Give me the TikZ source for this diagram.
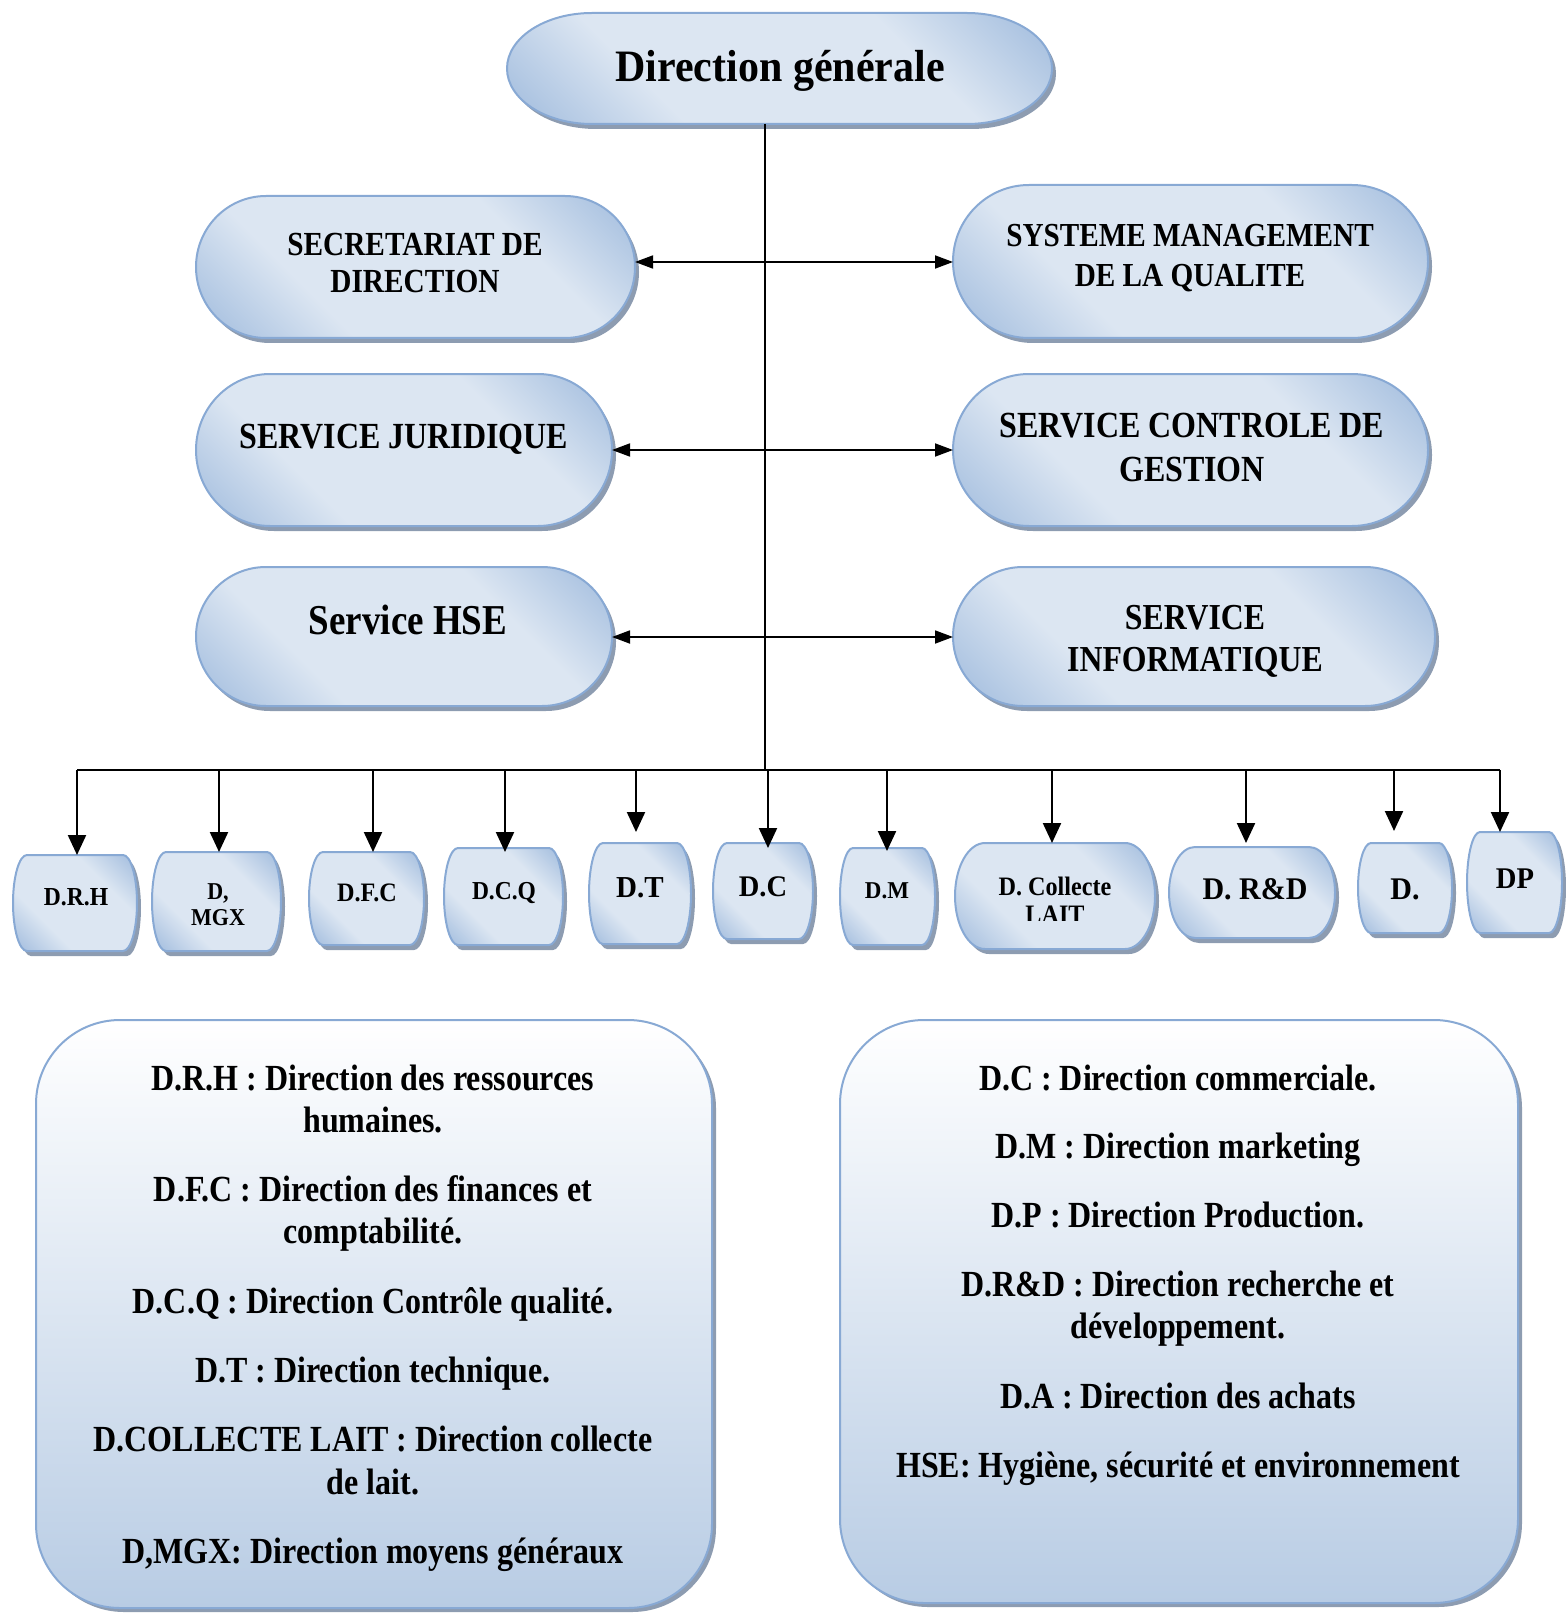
\documentclass[tikz,border=0pt]{standalone}
\usepackage{fontspec}
\setmainfont{Liberation Serif}
\usepackage{graphicx}
\usetikzlibrary{arrows.meta,shadows}

\definecolor{plight}{HTML}{DCE6F2}
\definecolor{pdark}{HTML}{9DB9DC}
\definecolor{pbord}{HTML}{88A9D4}
\definecolor{pshad}{HTML}{8D9CB1}
\definecolor{legbot}{HTML}{B8CCE4}

\pgfdeclarehorizontalshading{pillshade}{100bp}{color(0bp)=(pdark); color(14bp)=(pdark); color(34bp)=(plight); color(66bp)=(plight); color(86bp)=(pdark); color(100bp)=(pdark)}

\newcommand\fs[1]{\fontsize{#1}{#1}\selectfont\bfseries}
\newcommand\vst[2][1.15]{\scalebox{1}[#1]{#2}}

\tikzset{
  anchorbox/.style={rectangle, inner sep=0pt, outer sep=0pt},
  pillstyle/.style={shading=pillshade, shading angle=45, draw=pbord, line width=1pt},
  txt/.style={anchor=base, inner sep=0pt},
  harr/.style={-{Triangle[length=9pt,width=6.5pt]}, line width=0.9pt},
  varr/.style={-{Triangle[length=10pt,width=9pt]}, line width=1.1pt},
  legbox/.style={rectangle, rounded corners=42pt, draw=pbord, line width=1pt,
    top color=white, bottom color=legbot,
    drop shadow={shadow xshift=2pt, shadow yshift=-2pt, fill=pshad, opacity=1}},
}

% name, x1, y1, x2, y2, bulge (pixels, y downwards)
\newcommand\pill[6]{%
  \node[anchorbox, minimum width={(#4-#2)*0.5pt}, minimum height={(#5-#3)*0.5pt}] (#1) at ({(#2+#4)/2},{(#3+#5)/2}) {};
  \fill[pshad] ({#2+#6+4},{#3+5}) -- ({#4-#6+4},{#3+5})
     arc[start angle=90,end angle=-90,x radius={#6*0.5pt},y radius={(#5-#3)*0.25pt}]
     -- ({#2+#6+4},{#5+5})
     arc[start angle=270,end angle=90,x radius={#6*0.5pt},y radius={(#5-#3)*0.25pt}] -- cycle;
  \shadedraw[pillstyle] ({#2+#6},{#3}) -- ({#4-#6},{#3})
     arc[start angle=90,end angle=-90,x radius={#6*0.5pt},y radius={(#5-#3)*0.25pt}]
     -- ({#2+#6},{#5})
     arc[start angle=270,end angle=90,x radius={#6*0.5pt},y radius={(#5-#3)*0.25pt}] -- cycle;
}

\begin{document}
\begin{tikzpicture}[x=0.5pt,y=-0.5pt]
\useasboundingbox (0,0) rectangle (1566,1615);

% ---------- top ----------
\pill{dg}{507}{13}{1052}{124}{85}
\node[txt, font=\fs{21}] (tdg) at (780,82) {\vst[1.07]{Direction générale}};

% ---------- services ----------
\pill{sec}{196}{196}{635}{338}{70}
\node[txt, font=\fs{14.65}] (tsec1) at (415,256) {\vst{SECRETARIAT DE}};
\node[txt, font=\fs{14.65}] (tsec2) at (415,293) {\vst{DIRECTION}};

\pill{jur}{196}{374}{612}{526}{74}
\node[txt, font=\fs{16}] (tjur) at (404,448) {\vst{SERVICE JURIDIQUE}};

\pill{hse}{196}{567}{612}{706}{70}
\node[txt, font=\fs{18.5}] (thse) at (408,634) {\vst{Service HSE}};

\pill{smq}{953}{185}{1428}{338}{76}
\node[txt, font=\fs{14.6}] (tsmq1) at (1190,247) {\vst{SYSTEME MANAGEMENT}};
\node[txt, font=\fs{14.6}] (tsmq2) at (1190,287) {\vst{DE LA QUALITE}};

\pill{scg}{953}{374}{1428}{526}{76}
\node[txt, font=\fs{16}] (tscg1) at (1192,437) {\vst{SERVICE CONTROLE DE}};
\node[txt, font=\fs{16}] (tscg2) at (1192,481) {\vst{GESTION}};

\pill{sinf}{953}{567}{1435}{706}{70}
\node[txt, font=\fs{15.9}] (tsinf1) at (1195,629) {\vst{SERVICE}};
\node[txt, font=\fs{15.9}] (tsinf2) at (1195,671) {\vst{INFORMATIQUE}};

% ---------- trunk and side arrows ----------
\coordinate (tbot) at (765,770);
\draw[line width=0.8pt] (dg.south -| tbot) -- (tbot);
\coordinate (r1) at (765,262);
\coordinate (r2) at (765,450);
\coordinate (r3) at (765,637);
\draw[harr] (r1) -- (r1 -| sec.east);
\draw[harr] (r1) -- (r1 -| smq.west);
\draw[harr] (r2) -- (r2 -| jur.east);
\draw[harr] (r2) -- (r2 -| scg.west);
\draw[harr] (r3) -- (r3 -| hse.east);
\draw[harr] (r3) -- (r3 -| sinf.west);

% ---------- small boxes ----------
\pill{drh}{13}{855}{137}{951}{14}
\node[txt, font=\fs{11.8}] (tdrh) at (76,905) {\vst[1.1]{D.R.H}};
\pill{mgx}{152}{852}{281}{951}{14}
\node[txt, font=\fs{11}] (tmgx1) at (218,899) {\vst[1.1]{D,}};
\node[txt, font=\fs{11}] (tmgx2) at (218,925) {\vst[1.1]{MGX}};
\pill{dfc}{309}{852}{424}{945}{14}
\node[txt, font=\fs{12.1}] (tdfc) at (367,901) {\vst[1.1]{D.F.C}};
\pill{dcq}{444}{848}{563}{945}{14}
\node[txt, font=\fs{11.75}] (tdcq) at (504,899) {\vst[1.1]{D.C.Q}};
\pill{dt}{589}{843}{691}{944}{14}
\node[txt, font=\fs{14.5}] (tdt) at (640,897) {\vst[1.05]{D.T}};
\pill{dc}{713}{843}{813}{939}{14}
\node[txt, font=\fs{14.25}] (tdc) at (763,896) {\vst[1.05]{D.C}};
\pill{dm}{840}{848}{935}{945}{13}
\node[txt, font=\fs{11.5}] (tdm) at (887,898) {\vst[1.05]{D.M}};
\pill{dcl}{955}{843}{1155}{949}{30}
\node[txt, font=\fs{12.1}] (tdcl1) at (1055,895) {\vst[1.1]{D. Collecte}};
\begin{scope}
  \clip (960,845) rectangle (1150,920);
  \node[txt, font=\fs{12.1}] (tdcl2) at (1055,923) {\vst[1.1]{LAIT}};
\end{scope}
\pill{drd}{1169}{847}{1335}{938}{26}
\node[txt, font=\fs{15}] (tdrd) at (1255,899) {\vst[1.05]{D. R\&D}};
\pill{dd}{1358}{843}{1452}{933}{13}
\node[txt, font=\fs{15}] (tdd) at (1405,899) {\vst[1.05]{D.}};
\pill{dp}{1467}{832}{1562}{933}{13}
\node[txt, font=\fs{14.3}] (tdp) at (1515,888) {\vst[1.05]{DP}};

% ---------- bus and drops ----------
\coordinate (bL) at (77,770);
\coordinate (bR) at (1500,770);
\draw[line width=1pt] (bL) -- (bR);
\coordinate (b1) at (77,770);
\coordinate (b2) at (219,770);
\coordinate (b3) at (373,770);
\coordinate (b4) at (505,770);
\coordinate (b5) at (636,770);
\coordinate (b6) at (768,770);
\coordinate (b7) at (887,770);
\coordinate (b8) at (1052,770);
\coordinate (b9) at (1246,770);
\coordinate (b10) at (1394,770);
\coordinate (b11) at (1500,770);
\draw[varr] (b1) -- (b1 |- drh.north);
\draw[varr] (b2) -- (b2 |- mgx.north);
\draw[varr] (b3) -- (b3 |- dfc.north);
\draw[varr, shorten >=-2pt] (b4) -- (b4 |- dcq.north);
\draw[varr, shorten >=5.5pt] (b5) -- (b5 |- dt.north);
\draw[varr, shorten >=-2.5pt] (b6) -- (b6 |- dc.north);
\draw[varr, shorten >=-1.5pt] (b7) -- (b7 |- dm.north);
\draw[varr] (b8) -- (b8 |- dcl.north);
\draw[varr, shorten >=2pt] (b9) -- (b9 |- drd.north);
\draw[varr, shorten >=6pt] (b10) -- (b10 |- dd.north);
\draw[varr] (b11) -- (b11 |- dp.north);

% ---------- legends ----------
\node[legbox, minimum width=338pt, minimum height=294pt] (leg1) at (374,1314) {};
\node[legbox, minimum width=339pt, minimum height=291.5pt] (leg2) at (1179,1311.5) {};

\begin{scope}[every node/.style={txt, font=\fs{16}}]
\node (l1a) at (373,1090) {\vst{D.R.H : Direction des ressources}};
\node (l1b) at (373,1132) {\vst{humaines.}};
\node (l2a) at (373,1201) {\vst{D.F.C : Direction des finances et}};
\node (l2b) at (373,1243) {\vst{comptabilité.}};
\node (l3) at (373,1313) {\vst{D.C.Q : Direction Contrôle qualité.}};
\node (l4) at (373,1382) {\vst{D.T : Direction technique.}};
\node (l5a) at (373,1451) {\vst{D.COLLECTE LAIT : Direction collecte}};
\node (l5b) at (373,1494) {\vst{de lait.}};
\node (l6) at (373,1563) {\vst{D,MGX: Direction moyens généraux}};

\node (r1a) at (1178,1090) {\vst{D.C : Direction commerciale.}};
\node (r2a) at (1178,1158) {\vst{D.M : Direction marketing}};
\node (r3a) at (1178,1227) {\vst{D.P : Direction Production.}};
\node (r4a) at (1178,1296) {\vst{D.R\&D : Direction recherche et}};
\node (r4b) at (1178,1338) {\vst{développement.}};
\node (r5a) at (1178,1408) {\vst{D.A : Direction des achats}};
\node (r6a) at (1178,1477) {\vst{HSE: Hygiène, sécurité et environnement}};
\end{scope}
\end{tikzpicture}
\end{document}
